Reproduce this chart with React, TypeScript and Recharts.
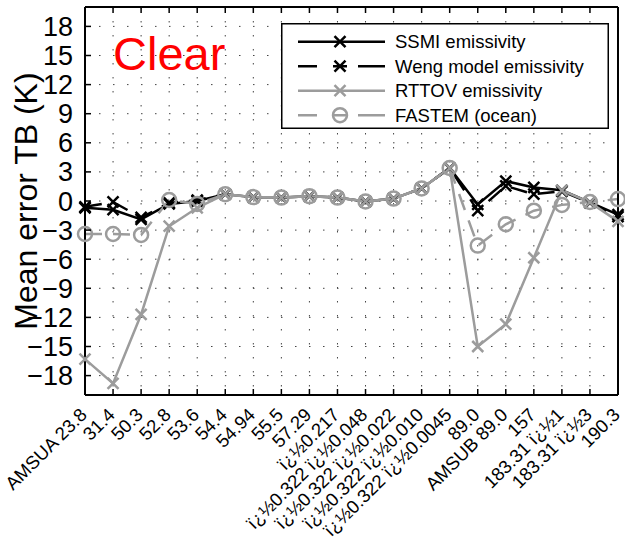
import React from 'react';
import { LineChart, Line, XAxis, YAxis, CartesianGrid, Legend, Customized } from 'recharts';

const categories = [
  'AMSUA 23.8', '31.4', '50.3', '52.8', '53.6', '54.4', '54.94', '55.5', '57.29',
  'ï¿½0.217', 'ï¿½0.322 ï¿½0.048', 'ï¿½0.322 ï¿½0.022', 'ï¿½0.322 ï¿½0.010', 'ï¿½0.322 ï¿½0.0045',
  '89.0', 'AMSUB 89.0', '157', '183.31 ï¿½1', '183.31 ï¿½3', '190.3',
];
const ssmiValues = [-0.7, -0.9, -1.9, -0.3, 0.0, 0.7, 0.4, 0.35, 0.5, 0.35, -0.05, 0.25, 1.3, 3.4, -0.35, 2.05, 1.4, 1.1, -0.15, -1.4];
const wengValues = [-0.6, -0.1, -1.7, -0.2, 0.1, 0.7, 0.4, 0.35, 0.5, 0.35, -0.05, 0.25, 1.3, 3.4, -1.0, 1.55, 0.7, 1.0, -0.2, -1.6];
const rttovValues = [-16.3, -18.8, -11.7, -2.6, -0.7, 0.7, 0.4, 0.35, 0.5, 0.35, -0.05, 0.25, 1.3, 3.4, -15.0, -12.7, -5.85, 1.1, -0.15, -2.1];
const fastemValues = [-3.4, -3.4, -3.5, 0.1, -0.3, 0.7, 0.4, 0.35, 0.5, 0.35, -0.05, 0.25, 1.3, 3.4, -4.6, -2.4, -1.0, -0.4, -0.1, 0.2];
const yTicks = [-18, -15, -12, -9, -6, -3, 0, 3, 6, 9, 12, 15, 18];
const seriesNames = ['SSMI emissivity', 'Weng model emissivity', 'RTTOV emissivity', 'FASTEM (ocean)'];

const data = categories.map((c, i) => ({
  cat: c,
  ssmi: ssmiValues[i],
  weng: wengValues[i],
  rttov: rttovValues[i],
  fastem: fastemValues[i],
}));

const FONT = '"Liberation Sans", Arial, Helvetica, sans-serif';
const GRAY = '#9c9c9c';
const DASH = '17 11';
const LEGEND_DASH = '19 16 14 11 27';

const XMark = (props: any) => {
  const { cx, cy, color } = props;
  if (cx == null || cy == null) return null;
  const s = 5.5;
  return (
    <path
      d={`M${cx - s},${cy - s}L${cx + s},${cy + s}M${cx - s},${cy + s}L${cx + s},${cy - s}`}
      stroke={color}
      strokeWidth={2.5}
      fill="none"
    />
  );
};

const OMark = (props: any) => {
  const { cx, cy, color } = props;
  if (cx == null || cy == null) return null;
  return <circle cx={cx} cy={cy} r={7} stroke={color} strokeWidth={2.5} fill="none" />;
};

const fmt = (v: number) => (v < 0 ? '\u2212' + Math.abs(v) : String(v));

const XTick = (props: any) => {
  const { x, y, payload } = props;
  const ax = x + 3;
  const ay = y + 21;
  return (
    <g>
      <line x1={x} x2={x} y1={y} y2={y - 6} stroke="#000" strokeWidth={1.5} />
      <text
        x={ax}
        y={ay}
        transform={`rotate(-45 ${ax} ${ay})`}
        textAnchor="end"
        fontSize={18.5}
        fontFamily={FONT}
        fill="#000"
      >
        {payload.value}
      </text>
    </g>
  );
};

const TopTick = (props: any) => {
  const { x, y } = props;
  return <line x1={x} x2={x} y1={y} y2={y + 6} stroke="#000" strokeWidth={1.5} />;
};

const YTick = (props: any) => {
  const { x, y, payload } = props;
  return (
    <g>
      <line x1={x} x2={x + 6} y1={y} y2={y} stroke="#000" strokeWidth={1.5} />
      <text x={x - 12} y={y} dy={9.5} textAnchor="end" fontSize={27} fontFamily={FONT} fill="#000">
        {fmt(payload.value)}
      </text>
    </g>
  );
};

const RightTick = (props: any) => {
  const { x, y } = props;
  return <line x1={x} x2={x - 6} y1={y} y2={y} stroke="#000" strokeWidth={1.5} />;
};

const legendStyles = [
  { color: '#000', dash: undefined, mark: 'x' },
  { color: '#000', dash: LEGEND_DASH, mark: 'x' },
  { color: GRAY, dash: undefined, mark: 'x' },
  { color: GRAY, dash: LEGEND_DASH, mark: 'o' },
];

const LegendContent = () => (
  <svg width={328} height={106} style={{ display: 'block' }}>
    <rect x={0.75} y={0.75} width={326.5} height={104.5} fill="#fff" stroke="#000" strokeWidth={1.5} />
    {seriesNames.map((name, k) => {
      const cy = 18.7 + 24.5 * k;
      const st = legendStyles[k];
      return (
        <g key={name}>
          <line x1={17} x2={104} y1={cy} y2={cy} stroke={st.color} strokeWidth={2.5} strokeDasharray={st.dash} />
          {st.mark === 'x' ? <XMark cx={59} cy={cy} color={st.color} /> : <OMark cx={59} cy={cy} color={st.color} />}
          <text x={114} y={cy} dy={6.5} fontSize={18.5} fontFamily={FONT} fill="#000">
            {name}
          </text>
        </g>
      );
    })}
  </svg>
);

const Overlay = () => (
  <g>
    <text x={113} y={70} fontSize={47} fontFamily={FONT} fill="#ff0000">
      Clear
    </text>
    <text
      x={37}
      y={201}
      transform="rotate(-90 37 201)"
      textAnchor="middle"
      fontSize={32}
      fontFamily={FONT}
      fill="#000"
    >
      Mean error TB (K)
    </text>
  </g>
);

export default function App() {
  return (
    <div style={{ width: 625, height: 542, background: '#fff' }}>
      <style>{'body{margin:0;background:#fff}'}</style>
      <LineChart width={625} height={542} data={data} margin={{ top: 6, right: 6, bottom: 0, left: 0 }}>
        <CartesianGrid stroke="#444" strokeDasharray="1.5 12.5" strokeWidth={1} />
        <XAxis
          dataKey="cat"
          type="category"
          scale="point"
          padding={{ left: 0, right: 0 }}
          interval={0}
          height={147}
          tickSize={0}
          tickMargin={0}
          tick={<XTick />}
          tickLine={false}
          axisLine={{ stroke: '#000', strokeWidth: 2 }}
        />
        <XAxis
          xAxisId="top"
          orientation="top"
          dataKey="cat"
          type="category"
          scale="point"
          padding={{ left: 0, right: 0 }}
          interval={0}
          height={1}
          tickSize={0}
          tickMargin={0}
          tick={<TopTick />}
          tickLine={false}
          axisLine={{ stroke: '#000', strokeWidth: 2 }}
        />
        <YAxis
          type="number"
          domain={[-20, 20]}
          ticks={yTicks}
          interval={0}
          width={85}
          tickSize={0}
          tickMargin={0}
          tick={<YTick />}
          tickLine={false}
          axisLine={{ stroke: '#000', strokeWidth: 2 }}
        />
        <YAxis
          yAxisId="right"
          orientation="right"
          type="number"
          domain={[-20, 20]}
          ticks={yTicks}
          interval={0}
          width={1}
          tickSize={0}
          tickMargin={0}
          tick={<RightTick />}
          tickLine={false}
          axisLine={{ stroke: '#000', strokeWidth: 2 }}
        />
        <Line
          dataKey="ssmi"
          name={seriesNames[0]}
          stroke="#000"
          strokeWidth={2.5}
          dot={<XMark color="#000" />}
          activeDot={false}
          isAnimationActive={false}
        />
        <Line
          dataKey="weng"
          name={seriesNames[1]}
          stroke="#000"
          strokeWidth={2.5}
          strokeDasharray={DASH}
          dot={<XMark color="#000" />}
          activeDot={false}
          isAnimationActive={false}
        />
        <Line
          dataKey="rttov"
          name={seriesNames[2]}
          stroke={GRAY}
          strokeWidth={2.5}
          dot={<XMark color={GRAY} />}
          activeDot={false}
          isAnimationActive={false}
        />
        <Line
          dataKey="fastem"
          name={seriesNames[3]}
          stroke={GRAY}
          strokeWidth={2.5}
          strokeDasharray={DASH}
          dot={<OMark color={GRAY} />}
          activeDot={false}
          isAnimationActive={false}
        />
        <Customized component={Overlay} />
        <Legend
          layout="vertical"
          align="center"
          verticalAlign="middle"
          content={() => <LegendContent />}
          wrapperStyle={{ position: 'absolute', left: 281, top: 23, width: 328, height: 106, margin: 0 }}
        />
      </LineChart>
    </div>
  );
}
